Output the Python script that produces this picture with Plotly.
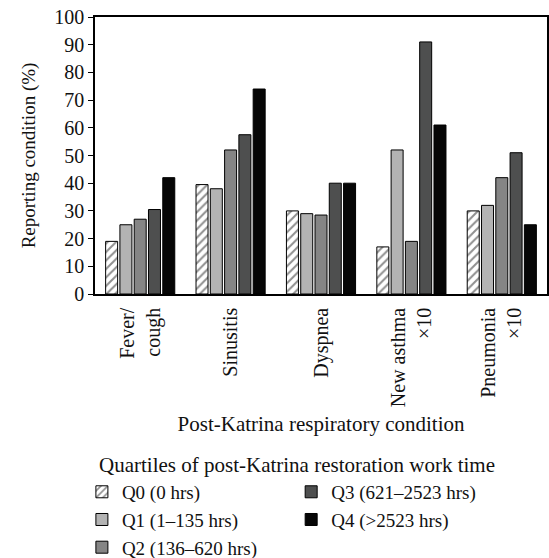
import plotly.graph_objects as go

categories = ["Fever/<br>cough", "Sinusitis", "Dyspnea", "New asthma<br>×10", "Pneumonia<br>×10"]
q0 = [19, 39.5, 30, 17, 30]
q1 = [25, 38, 29, 52, 32]
q2 = [27, 52, 28.5, 19, 42]
q3 = [30.5, 57.5, 40, 91, 51]
q4 = [42, 74, 40, 61, 25]
series_names = ["Q0 (0 hrs)", "Q1 (1–135 hrs)", "Q2 (136–620 hrs)", "Q3 (621–2523 hrs)", "Q4 (>2523 hrs)"]
series_values = [q0, q1, q2, q3, q4]
colors = ["#ffffff", "#b3b3b3", "#858585", "#4e4f4f", "#060606"]
legends = ["legend", "legend", "legend", "legend2", "legend2"]

FONT = "Liberation Serif"
FS = 20

fig = go.Figure()
for i, (name, vals) in enumerate(zip(series_names, series_values)):
    marker = dict(color=colors[i], line=dict(color="#000000", width=1))
    if i == 0:
        marker["pattern"] = dict(shape="/", fgcolor="#222222", bgcolor="#ffffff", size=6, solidity=0.35)
    fig.add_trace(go.Bar(x=categories, y=vals, name=name, marker=marker, legend=legends[i]))

fig.update_layout(
    width=549, height=558,
    margin=dict(l=95, r=2, t=17, b=264, autoexpand=False),
    paper_bgcolor="white", plot_bgcolor="white",
    font=dict(family=FONT, size=FS, color="#111111"),
    barmode="group", bargap=0.21, bargroupgap=0.16,
    showlegend=True,
    legend=dict(x=-0.029, y=-0.646, xanchor="left", yanchor="top", orientation="v",
                font=dict(family=FONT, size=19), bgcolor="rgba(0,0,0,0)",
                itemwidth=30, tracegroupgap=0),
    legend2=dict(x=0.434, y=-0.646, xanchor="left", yanchor="top", orientation="v",
                 font=dict(family=FONT, size=19), bgcolor="rgba(0,0,0,0)",
                 itemwidth=30, tracegroupgap=0),
    annotations=[dict(text="Quartiles of post-Katrina restoration work time", xref="paper", yref="paper",
                      x=0.448, y=-0.617, xanchor="center", yanchor="middle", showarrow=False,
                      font=dict(family=FONT, size=21))],
)
fig.update_xaxes(showline=True, linecolor="#000000", linewidth=1.5, mirror=True, ticks="",
                 tickangle=-90, ticklabelstandoff=4,
                 title=dict(text="Post-Katrina respiratory condition", standoff=10, font=dict(size=21)),
                 tickfont=dict(family=FONT, size=FS))
fig.update_yaxes(range=[0, 100], dtick=10, showline=True, linecolor="#000000", linewidth=1.5, mirror=True,
                 ticks="outside", ticklen=5, tickcolor="#000000", showgrid=False, zeroline=False,
                 title=dict(text="Reporting condition (%)", standoff=14, font=dict(size=19)),
                 tickfont=dict(family=FONT, size=FS))
fig.write_html("out.html", config={"displayModeBar": False},
               post_script="document.body.style.margin='0';")
